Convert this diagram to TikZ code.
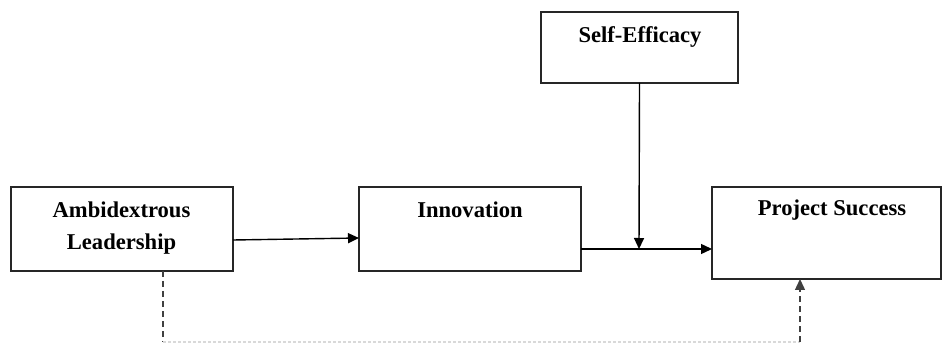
\documentclass[tikz,border=0pt]{standalone}
\usepackage{fontspec}
\setmainfont{Liberation Serif}
\usetikzlibrary{arrows.meta}
\begin{document}
\begin{tikzpicture}[x=0.5pt,y=-0.5pt,
  box/.style={draw=black!85,line width=0.8pt,inner sep=0pt,outer sep=0pt,fill=white},
  lbl/.style={font=\fontsize{11.3}{16}\selectfont\bfseries,align=center,inner sep=0pt},
  arr/.style={line width=0.7pt,-{Triangle[length=5.5pt,width=5pt]}},
  dsh/.style={line width=0.7pt,dashed,dash pattern=on 3pt off 2pt,black!75},
  faint/.style={line width=0.6pt,dash pattern=on 1.5pt off 1pt,black!15}]
\useasboundingbox (0,0) rectangle (942,347);
\node[box,minimum width=111pt,minimum height=42pt] (ambi) at (122,229) {};
\node[box,minimum width=111pt,minimum height=42pt] (innov) at (470,229) {};
\node[box,minimum width=98.5pt,minimum height=35.5pt] (self) at (639.5,47.5) {};
\node[box,minimum width=114.5pt,minimum height=46pt] (proj) at (826.5,233) {};
\node[lbl] (ambiT) at (121.5,228) {Ambidextrous\\Leadership};
\node[lbl] (innovT) at (470,210) {Innovation};
\node[lbl] (selfT) at (640,37) {Self-Efficacy};
\node[lbl] (projT) at (832,210) {Project Success};
\coordinate (j) at (639,249);
\coordinate (c1) at (163,342);
\coordinate (c2) at (800,342);
\draw[arr] ([yshift=-5.5pt]ambi.east) -- ([yshift=-4.5pt]innov.west);
\draw[arr] (self.south) -- (j);
\draw[arr] (innov.east |- j) -- (proj.west |- j);
\draw[dsh] ([xshift=20.5pt]ambi.south) -- (c1);
\draw[faint] (c1) -- (c2);
\draw[dsh,-{Triangle[length=5.5pt,width=5pt]}] (c2) -- ([xshift=-13.25pt]proj.south);
\end{tikzpicture}
\end{document}
